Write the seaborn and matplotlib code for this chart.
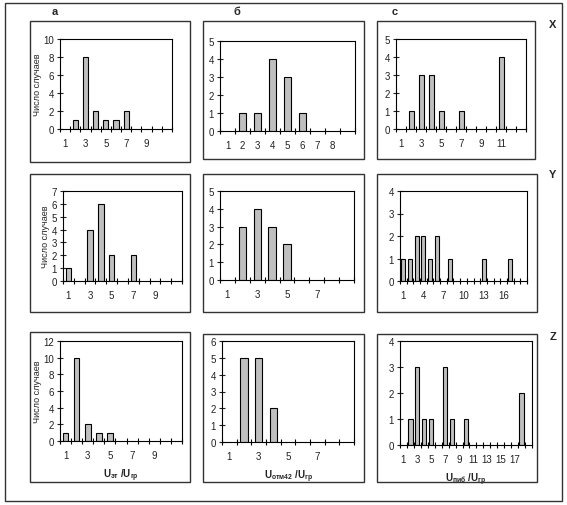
import matplotlib
matplotlib.use("Agg")
import matplotlib.pyplot as plt
from matplotlib.patches import Rectangle
from matplotlib.ticker import FixedLocator, NullFormatter, FixedFormatter
import seaborn as sns
import pandas as pd

sns.set_theme(style="ticks")
plt.rcParams['font.family'] = ['Liberation Sans', 'DejaVu Sans']

# ---- data: (category values, counts) for each panel ----
# row X
xa_cats = [1, 2, 3, 4, 5, 6, 7, 8, 9, 10, 11]
xa_vals = [0, 1, 8, 2, 1, 1, 2, 0, 0, 0, 0]
xb_cats = [1, 2, 3, 4, 5, 6, 7, 8, 9]
xb_vals = [0, 1, 1, 4, 3, 1, 0, 0, 0]
xc_cats = list(range(1, 14))
xc_vals = [0, 1, 3, 3, 1, 0, 1, 0, 0, 0, 4, 0, 0]
# row Y
ya_cats = [1, 2, 3, 4, 5, 6, 7, 8, 9, 10, 11]
ya_vals = [1, 0, 4, 6, 2, 0, 2, 0, 0, 0, 0]
yb_cats = [1, 2, 3, 4, 5, 6, 7, 8, 9]
yb_vals = [0, 3, 4, 3, 2, 0, 0, 0, 0]
yc_cats = list(range(1, 20))
yc_vals = [1, 1, 2, 2, 1, 2, 0, 1, 0, 0, 0, 0, 1, 0, 0, 0, 1, 0, 0]
# row Z
za_cats = [1, 2, 3, 4, 5, 6, 7, 8, 9, 10, 11]
za_vals = [1, 10, 2, 1, 1, 0, 0, 0, 0, 0, 0]
zb_cats = [1, 2, 3, 4, 5, 6, 7, 8, 9]
zb_vals = [0, 5, 5, 2, 0, 0, 0, 0, 0]
zc_cats = list(range(1, 20))
zc_vals = [0, 1, 3, 1, 1, 0, 3, 1, 0, 1, 0, 0, 0, 0, 0, 0, 0, 2, 0]

# tick labels
xa_labels = [1, 3, 5, 7, 9]
xb_labels = [1, 2, 3, 4, 5, 6, 7, 8]
xc_labels = [1, 3, 5, 7, 9, 11]
ya_labels = [1, 3, 5, 7, 9]
yb_labels = [1, 3, 5, 7]
yc_labels = [1, 4, 7, 10, 13, 16]
za_labels = [1, 3, 5, 7, 9]
zb_labels = [1, 3, 5, 7]
zc_labels = [1, 3, 5, 7, 9, 11, 13, 15, 17]

y_max = {'xa': 10, 'xb': 5, 'xc': 5, 'ya': 7, 'yb': 5, 'yc': 4, 'za': 12, 'zb': 6, 'zc': 4}
y_step = {'xa': 2, 'xb': 1, 'xc': 1, 'ya': 1, 'yb': 1, 'yc': 1, 'za': 2, 'zb': 1, 'zc': 1}

ylabel_text = "Число случаев"
col_titles = ["а", "б", "с"]
row_titles = ["X", "Y", "Z"]
xlabels = [r"U$_{\mathregular{эт}}$ /U$_{\mathregular{гр}}$",
           r"U$_{\mathregular{отм42}}$ /U$_{\mathregular{гр}}$",
           r"U$_{\mathregular{пиб}}$ /U$_{\mathregular{гр}}$"]

W, H = 567, 506
fig = plt.figure(figsize=(W / 100, H / 100), dpi=100)
fig.patch.set_facecolor("white")
plt.rcParams['mathtext.default'] = 'regular'

def rect_px(x0, y0, x1, y1):
    return [x0 / W, 1 - y1 / H, (x1 - x0) / W, (y1 - y0) / H]

# plot-area positions in pixels
plot_px = {
    'xa': (60, 40, 172, 130), 'xb': (220, 42, 355, 132), 'xc': (396, 40, 526, 130),
    'ya': (63, 192, 182, 282), 'yb': (220, 192, 354, 281), 'yc': (400, 192, 527, 282),
    'za': (60, 342, 182, 442), 'zb': (222, 342, 354, 443), 'zc': (400, 342, 532, 446),
}
# chart-area frames in pixels
frame_px = {
    'xa': (30, 22, 190, 163), 'xb': (203, 22, 364, 160), 'xc': (377, 22, 535, 160),
    'ya': (30, 175, 190, 313), 'yb': (203, 175, 364, 313), 'yc': (377, 175, 537, 313),
    'za': (30, 333, 190, 483), 'zb': (203, 335, 364, 483), 'zc': (377, 335, 537, 483),
}

panels = {
    'xa': (xa_cats, xa_vals, xa_labels), 'xb': (xb_cats, xb_vals, xb_labels),
    'xc': (xc_cats, xc_vals, xc_labels),
    'ya': (ya_cats, ya_vals, ya_labels), 'yb': (yb_cats, yb_vals, yb_labels),
    'yc': (yc_cats, yc_vals, yc_labels),
    'za': (za_cats, za_vals, za_labels), 'zb': (zb_cats, zb_vals, zb_labels),
    'zc': (zc_cats, zc_vals, zc_labels),
}

# outer frame
fig.add_artist(Rectangle((5 / W, 1 - 502 / H), (562 - 5) / W, (502 - 4) / H,
                         transform=fig.transFigure, fill=False, ec="#333333", lw=1.0))
for key, (x0, y0, x1, y1) in frame_px.items():
    fig.add_artist(Rectangle((x0 / W, 1 - y1 / H), (x1 - x0) / W, (y1 - y0) / H,
                             transform=fig.transFigure, fill=False, ec="#333333", lw=1.0))

for key, (cats, vals, labels) in panels.items():
    ax = fig.add_axes(rect_px(*plot_px[key]))
    df = pd.DataFrame({'cat': [str(c) for c in cats], 'n': vals})
    df_nz = df[df['n'] > 0]
    order = [str(c) for c in cats]
    bw = 0.5 if len(cats) < 15 else 0.6
    sns.barplot(data=df_nz, x='cat', y='n', order=order, ax=ax, color="#bfbfbf",
                edgecolor="black", linewidth=0.8, width=bw, saturation=1)
    n = len(cats)
    ax.set_xlim(-0.5, n - 0.5)
    ax.set_ylim(0, y_max[key])
    ax.set_xlabel("")
    ax.set_ylabel("")
    # boundary ticks
    ax.xaxis.set_major_locator(FixedLocator([i - 0.5 for i in range(n + 1)]))
    ax.xaxis.set_major_formatter(NullFormatter())
    ax.xaxis.set_minor_locator(FixedLocator([cats.index(l) for l in labels]))
    ax.xaxis.set_minor_formatter(FixedFormatter([str(l) for l in labels]))
    ax.tick_params(axis='x', which='major', direction='inout', length=5, width=0.8, color='black')
    ax.tick_params(axis='x', which='minor', length=0, labelsize=7, pad=6.5, colors='#222222')
    yt = list(range(0, y_max[key] + 1, y_step[key]))
    ax.set_yticks(yt)
    ax.set_yticklabels([str(v) for v in yt])
    ax.tick_params(axis='y', direction='inout', length=5, width=0.8, labelsize=7, pad=2,
                   colors='#222222')
    for s in ax.spines.values():
        s.set_visible(True)
        s.set_linewidth(0.8)
        s.set_color('black')
    ax.set_facecolor("white")
    if key[1] == 'a':
        ax.set_ylabel(ylabel_text, fontsize=6.5, labelpad=1, color='#222222')
    if key[0] == 'z':
        col = 'abc'.index(key[1])
        ax.set_xlabel(xlabels[col], fontsize=7, fontweight='bold', labelpad=5, color='#222222')

# column and row titles
for t, xp in zip(col_titles, [55, 237, 395]):
    fig.text(xp / W, 1 - 12 / H, t, fontsize=8, fontweight='bold', ha='center', va='center')
for t, yp in zip(row_titles, [25, 175, 337]):
    fig.text(553 / W, 1 - yp / H, t, fontsize=8, fontweight='bold', ha='center', va='center')

fig.savefig("out.png", dpi=100, facecolor="white")
